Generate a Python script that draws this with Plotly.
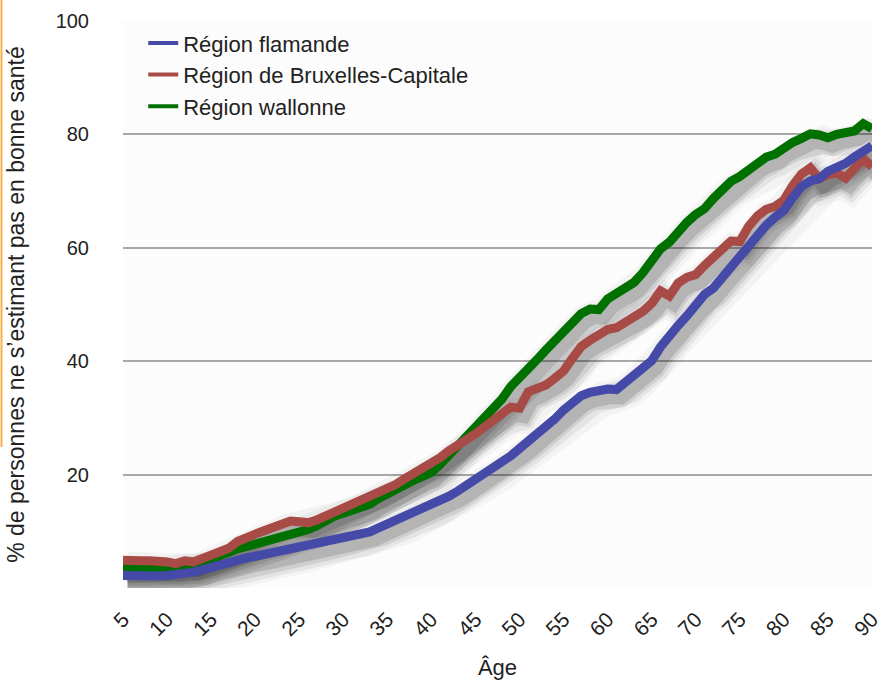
import plotly.graph_objects as go

ages = list(range(5, 91))

flamande = [2.2, 2.1, 2.1, 2.1, 2.1, 2.2, 2.3, 2.5, 2.8, 3.2,
            3.7, 4.2, 4.6, 5.0, 5.3, 5.6, 5.9, 6.2, 6.5, 6.8,
            7.1, 7.4, 7.7, 8.1, 8.5, 8.8, 9.1, 9.4, 9.9, 10.6,
            11.3, 11.9, 12.5, 13.2, 13.8, 14.5, 15.3, 16.2, 17.1, 18.1,
            19.1, 20.2, 21.1, 22.3, 23.3, 24.6, 25.8, 27.1, 28.6, 29.8,
            31.4, 32.9, 33.9, 34.5, 34.9, 35.1, 35.0, 36.3, 37.6, 38.7,
            40.1, 42.5, 44.6, 46.3, 48.0, 49.8, 51.8, 52.9, 54.8, 56.6,
            58.2, 60.3, 62.2, 64.0, 65.4, 66.6, 68.8, 70.8, 71.8, 72.2,
            73.5, 74.1, 74.9, 76.0, 77.0, 78.0]

bruxelles = [4.9, 4.7, 4.8, 4.8, 4.8, 4.6, 4.3, 4.8, 4.6, 5.3,
             5.8, 6.3, 7.0, 8.2, 9.0, 9.5, 10.1, 10.8, 11.5, 11.8,
             11.7, 11.5, 12.0, 12.7, 13.5, 14.2, 14.7, 15.4, 15.9, 16.7,
             17.5, 18.3, 19.3, 20.2, 21.0, 22.0, 23.0, 24.2, 25.4, 26.2,
             27.2, 28.5, 29.7, 30.8, 31.9, 31.7, 34.6, 35.2, 35.8, 37.0,
             38.3, 40.5, 42.6, 43.7, 44.5, 45.6, 45.9, 46.8, 47.8, 48.8,
             50.2, 52.4, 51.5, 53.8, 54.8, 55.3, 56.9, 58.2, 59.6, 61.2,
             61.1, 63.8, 65.6, 66.8, 67.3, 68.4, 71.0, 73.0, 74.1, 72.2,
             72.9, 73.2, 72.3, 74.0, 75.7, 74.3]

wallonne = [3.5, 3.5, 3.5, 3.5, 3.5, 3.5, 3.5, 3.6, 3.9, 4.4,
            5.0, 5.7, 6.3, 6.9, 7.3, 7.6, 8.0, 8.5, 8.8, 9.2,
            9.8, 10.3, 11.0, 11.9, 12.7, 13.2, 13.6, 14.1, 14.8, 15.8,
            16.7, 17.5, 18.2, 19.0, 19.7, 20.4, 21.8, 23.4, 25.0, 26.8,
            28.5, 30.0, 31.6, 33.3, 35.5, 37.3, 38.8, 40.3, 42.0, 43.6,
            45.0, 46.7, 48.4, 49.2, 49.1, 51.0, 51.9, 52.8, 53.9, 55.6,
            57.6, 59.8, 61.0, 62.9, 64.5, 65.9, 66.9, 68.7, 70.3, 71.7,
            72.6, 73.9, 75.2, 76.0, 76.5, 77.8, 78.6, 79.3, 80.1, 79.9,
            79.4, 80.0, 80.2, 80.6, 81.9, 81.0]

series_names = ["Région flamande", "Région de Bruxelles-Capitale", "Région wallonne"]
series_values = [flamande, bruxelles, wallonne]
series_colors = ["#4549A8", "#A84A45", "#007000"]

x_ticks = list(range(5, 91, 5))
y_ticks = [0, 20, 40, 60, 80, 100]
y_ticktext = ["", "20", "40", "60", "80", "100"]

FONT = "Liberation Sans, Arial, Helvetica, sans-serif"

fig = go.Figure()

# soft drop shadow drawn on offset overlay axes (x2/y2), beneath the lines (x3/y3)
for vals in series_values:
    for w, a in [(34, 0.035), (26, 0.06), (19, 0.09), (13, 0.13)]:
        fig.add_trace(go.Scatter(x=ages, y=vals, mode="lines", xaxis="x2", yaxis="y2",
                                 line=dict(color=f"rgba(0,0,0,{a})", width=w),
                                 hoverinfo="skip", showlegend=False))

# draw order: wallonne (bottom), bruxelles, flamande (top)
for idx in [2, 1, 0]:
    fig.add_trace(go.Scatter(x=ages, y=series_values[idx], mode="lines",
                             xaxis="x3", yaxis="y3",
                             name=series_names[idx],
                             line=dict(color=series_colors[idx], width=9),
                             showlegend=False))

for name, col in zip(series_names, series_colors):
    fig.add_trace(go.Scatter(x=[None], y=[None], mode="lines", name=name,
                             line=dict(color=col, width=4), showlegend=True))

fig.update_layout(
    width=884, height=681,
    margin=dict(l=123, r=12, t=21, b=93, autoexpand=False),
    paper_bgcolor="white",
    plot_bgcolor="#fcfcfc",
    font=dict(family=FONT, size=20, color="#222222"),
    showlegend=True,
    legend=dict(x=0.027, y=0.998, xanchor="left", yanchor="top",
                bgcolor="rgba(0,0,0,0)", font=dict(size=22, color="#222222"),
                itemwidth=30, tracegroupgap=0),
    xaxis=dict(range=[5, 90], tickvals=x_ticks, tickangle=-45, showgrid=False,
               zeroline=False, showline=False, ticks="", ticklabelstandoff=14,
               automargin=False,
               tickfont=dict(size=21, color="#222222"),
               title=dict(text="Âge", standoff=20, font=dict(size=22))),
    yaxis=dict(range=[0, 100], tickvals=y_ticks, ticktext=y_ticktext,
               showgrid=True, gridcolor="#a8a8a8", gridwidth=2,
               zeroline=False, showline=False, ticks="", ticklabelstandoff=33,
               automargin=False,
               tickfont=dict(size=20, color="#222222"),
               title=dict(text="% de personnes ne s’estimant pas en bonne santé",
                          standoff=24, font=dict(size=23))),
    xaxis2=dict(range=[5 - 0.5, 90 - 0.5], overlaying="x", visible=False),
    yaxis2=dict(range=[0 + 1.5, 100 + 1.5], overlaying="y", visible=False),
    xaxis3=dict(range=[5, 90], overlaying="x", visible=False),
    yaxis3=dict(range=[0, 100], overlaying="y", visible=False),
    shapes=[dict(type="line", xref="paper", yref="paper",
                 x0=(1.5 - 123) / 749, x1=(1.5 - 123) / 749,
                 y0=(588 - 447) / 567, y1=(588 - 0) / 567,
                 line=dict(color="#F5B04A", width=2))],
)

fig.write_html("out.html", config={"displayModeBar": False},
               post_script="document.body.style.margin='0';document.body.style.overflow='hidden';")
